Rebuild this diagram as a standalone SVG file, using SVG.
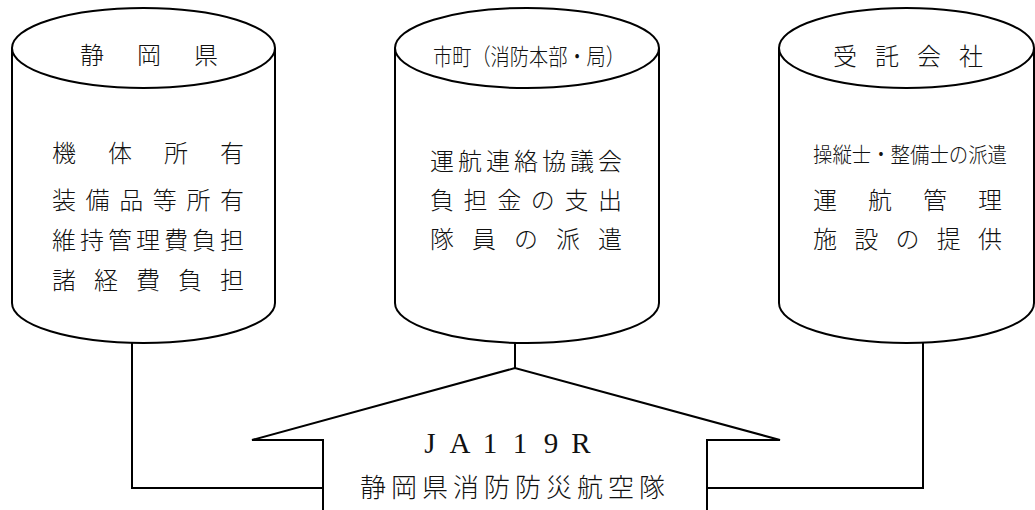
<svg xmlns="http://www.w3.org/2000/svg" width="1035" height="510" viewBox="0 0 1035 510">
<style>
.shape{fill:#fff;stroke:#000;stroke-width:2}
.line{fill:none;stroke:#000;stroke-width:2}
.jp{font-family:"Noto Sans CJK JP","Noto Sans CJK SC",sans-serif;font-weight:300;fill:#111}
.t24{font-size:24px}
.t21{font-size:21px}
.t23{font-size:23px}
.t26{font-size:26px}
.lat{font-family:"Liberation Serif","Noto Sans CJK JP",serif;font-size:29px;fill:#111}
</style>
<rect width="1035" height="510" fill="#fff"/>
<g id="connectors">
<path class="line" d="M132,343 L132,488 L323,488"/>
<path class="line" d="M515,343 L515,368"/>
<path class="line" d="M923,343 L923,488 L707,488"/>
</g>
<g id="shizuoka">
<path class="shape" d="M12,48 L12,303 A131.5,40 0 0 0 275,303 L275,48"/>
<ellipse class="shape" cx="143.5" cy="48" rx="131.5" ry="40"/>
<text class="jp t24" x="80 137 194" y="64">静岡県</text>
<text class="jp t24" x="52 108 164 220" y="162">機体所有</text>
<text class="jp t24" x="52 85.6 119.2 152.8 186.4 220" y="209">装備品等所有</text>
<text class="jp t24" x="52 80 108 136 164 192 220" y="249">維持管理費負担</text>
<text class="jp t24" x="52 94 136 178 220" y="289">諸経費負担</text>
</g>
<g id="municipality">
<path class="shape" d="M395,48 L395,303 A132,40 0 0 0 659,303 L659,48"/>
<ellipse class="shape" cx="527" cy="48" rx="132" ry="40"/>
<text class="jp t23" x="433" y="65" textLength="192" lengthAdjust="spacingAndGlyphs">市町（消防本部・局）</text>
<text class="jp t24" x="430 458 486 514 542 570 598" y="170">運航連絡協議会</text>
<text class="jp t24" x="430 463.6 497.2 530.8 564.4 598" y="209">負担金の支出</text>
<text class="jp t24" x="430 472 514 556 598" y="248">隊員の派遣</text>
</g>
<g id="contractor">
<path class="shape" d="M779,48 L779,303 A127.5,40 0 0 0 1034,303 L1034,48"/>
<ellipse class="shape" cx="906.5" cy="48" rx="127.5" ry="40"/>
<text class="jp t24" x="833 875 917 959" y="65">受託会社</text>
<text class="jp t21" x="813" y="162" textLength="194" lengthAdjust="spacingAndGlyphs">操縦士・整備士の派遣</text>
<text class="jp t24" x="813 868 923 978" y="209">運航管理</text>
<text class="jp t24" x="813 854.25 895.5 936.75 978" y="248">施設の提供</text>
</g>
<g id="airunit">
<path class="shape" d="M323,515 L323,440 L252,440 L515,368 L780,440 L707,440 L707,515"/>
<text class="lat" x="430 460 490 520 551 581" y="453" text-anchor="middle">JA119R</text>
<text class="jp t26" x="360 391 422 453 484 515 546 577 608 639" y="497">静岡県消防防災航空隊</text>
</g>
</svg>
